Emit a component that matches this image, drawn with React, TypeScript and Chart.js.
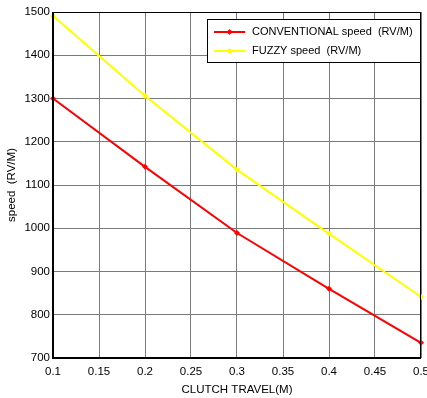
import React, { useEffect, useRef } from "react";
import { Chart, registerables } from "chart.js";

Chart.register(...registerables);

const clutchTravel = [0.1, 0.2, 0.3, 0.4, 0.5];
const conventionalSpeed = [1300, 1142, 989, 860, 735];
const fuzzySpeed = [1491, 1306, 1135, 987, 841];
const seriesLabels = ["CONVENTIONAL speed  (RV/M)", "FUZZY speed  (RV/M)"];
const xTitle = "CLUTCH TRAVEL(M)";
const yTitle = "speed  (RV/M)";

const FONT = "'Liberation Sans', Arial, sans-serif";

const boxLegend = {
  id: "boxLegend",
  afterDraw(chart: any) {
    const { ctx, chartArea } = chart;
    const w = 213;
    const h = 43;
    const x = chartArea.right - 1 - w;
    const y = chartArea.top + 7;
    ctx.save();
    ctx.fillStyle = "#ffffff";
    ctx.fillRect(x, y, w, h);
    ctx.strokeStyle = "#000000";
    ctx.lineWidth = 1;
    ctx.strokeRect(x + 0.5, y + 0.5, w, h);
    ctx.font = "11px " + FONT;
    ctx.textBaseline = "middle";
    chart.data.datasets.forEach((ds: any, i: number) => {
      const ly = y + 13 + i * 19;
      ctx.strokeStyle = ds.borderColor;
      ctx.lineWidth = 2;
      ctx.beginPath();
      ctx.moveTo(x + 7, ly);
      ctx.lineTo(x + 38, ly);
      ctx.stroke();
      ctx.fillStyle = ds.borderColor;
      const cx = x + 22.5;
      ctx.beginPath();
      ctx.moveTo(cx, ly - 3);
      ctx.lineTo(cx + 3, ly);
      ctx.lineTo(cx, ly + 3);
      ctx.lineTo(cx - 3, ly);
      ctx.closePath();
      ctx.fill();
      ctx.fillStyle = "#000000";
      ctx.fillText(ds.label, x + 45, ly);
    });
    ctx.restore();
  },
};

const frame = {
  id: "frame",
  afterDatasetsDraw(chart: any) {
    const { ctx, chartArea } = chart;
    ctx.save();
    ctx.strokeStyle = "#000000";
    ctx.lineWidth = 1;
    ctx.beginPath();
    ctx.moveTo(chartArea.left, chartArea.top + 0.5);
    ctx.lineTo(chartArea.right - 0.5, chartArea.top + 0.5);
    ctx.lineTo(chartArea.right - 0.5, chartArea.bottom);
    ctx.stroke();
    ctx.lineWidth = 2;
    ctx.beginPath();
    ctx.moveTo(chartArea.left, chartArea.top);
    ctx.lineTo(chartArea.left, chartArea.bottom);
    ctx.lineTo(chartArea.right, chartArea.bottom);
    ctx.stroke();
    ctx.restore();
  },
};

export default function App() {
  const ref = useRef<HTMLCanvasElement>(null);
  useEffect(() => {
    document.body.style.margin = "0";
    const toPts = (ys: number[]) => clutchTravel.map((x, i) => ({ x, y: ys[i] }));
    const chart = new Chart(ref.current as HTMLCanvasElement, {
      type: "line",
      data: {
        datasets: [
          {
            label: seriesLabels[0],
            data: toPts(conventionalSpeed),
            borderColor: "#ff0000",
            backgroundColor: "#ff0000",
            borderWidth: 2,
            pointStyle: "rectRot",
            pointRadius: 3,
            pointBorderWidth: 0,
            clip: false as any,
          },
          {
            label: seriesLabels[1],
            data: toPts(fuzzySpeed),
            borderColor: "#ffff00",
            backgroundColor: "#ffff00",
            borderWidth: 2,
            pointStyle: "rectRot",
            pointRadius: 3,
            pointBorderWidth: 0,
            clip: false as any,
          },
        ],
      },
      options: {
        animation: false,
        responsive: false,
        maintainAspectRatio: false,
        layout: { padding: { top: 12, right: 6, left: 0, bottom: 0 } },
        plugins: {
          legend: { display: false },
          tooltip: { enabled: false },
        },
        scales: {
          x: {
            type: "linear",
            min: 0.1,
            max: 0.5,
            ticks: {
              stepSize: 0.05,
              autoSkip: false,
              maxRotation: 0,
              color: "#000",
              padding: 7,
              font: { family: FONT, size: 11.5 },
              callback: (v: any) => String(Math.round(Number(v) * 100) / 100),
            },
            grid: { color: "#7a7a7a", lineWidth: 1, drawTicks: false },
            border: { display: false },
            title: {
              display: true,
              text: xTitle,
              color: "#000",
              font: { family: FONT, size: 11.5 },
              padding: { top: 2, bottom: 1 },
            },
            afterFit: (s: any) => {
              s.height = 40;
              s.paddingLeft = 0;
              s.paddingRight = 0;
            },
          },
          y: {
            min: 700,
            max: 1500,
            ticks: {
              stepSize: 100,
              color: "#000",
              padding: 3,
              font: { family: FONT, size: 11.5 },
              callback: (v: any) => String(v),
            },
            grid: { color: "#7a7a7a", lineWidth: 1, drawTicks: false },
            border: { display: false },
            title: {
              display: true,
              text: yTitle,
              color: "#000",
              font: { family: FONT, size: 11.5 },
              padding: { top: 5, bottom: 2 },
            },
            afterFit: (s: any) => {
              s.width = 53;
              s.paddingTop = 0;
              s.paddingBottom = 0;
            },
          },
        },
      },
      plugins: [frame, boxLegend],
    });
    return () => chart.destroy();
  }, []);
  return <canvas ref={ref} width={427} height={398} style={{ display: "block" }} />;
}
